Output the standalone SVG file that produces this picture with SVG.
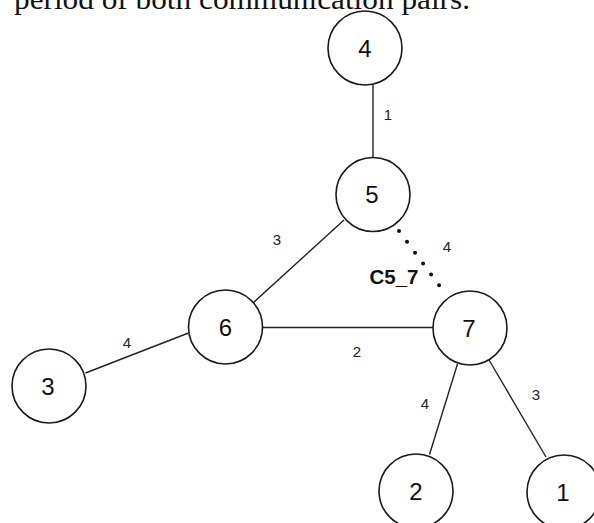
<svg xmlns="http://www.w3.org/2000/svg" width="594" height="523" viewBox="0 0 594 523">
  <style>
    .node circle { fill: #ffffff; stroke: #1a1a1a; stroke-width: 1.6; }
    .node text { font-family: "Liberation Sans", Arial, sans-serif; font-size: 24px; fill: #111111; text-anchor: middle; }
    .edge { stroke: #222222; stroke-width: 1.4; fill: none; }
    .dotted { stroke: #111111; stroke-width: 4; stroke-linecap: round; stroke-dasharray: 0 13.5; fill: none; }
    .elabel { font-family: "Liberation Sans", Arial, sans-serif; font-size: 15px; fill: #222222; text-anchor: middle; }
    .clabel { font-family: "Liberation Sans", Arial, sans-serif; font-size: 20.5px; font-weight: bold; fill: #111111; text-anchor: middle; }
    .caption { font-family: "Liberation Serif", "Times New Roman", serif; font-size: 29px; fill: #111111; }
  </style>
  <rect width="594" height="523" fill="#ffffff"/>

  <!-- tail of the preceding paragraph -->
  <text class="caption" x="14" y="9" textLength="456" lengthAdjust="spacingAndGlyphs">period of both communication pairs.</text>

  <!-- connectors -->
  <g id="connectors">
    <line class="edge" x1="373" y1="85" x2="373" y2="157.5"/>
    <line class="edge" x1="344" y1="220" x2="253.5" y2="302.5"/>
    <line class="dotted" x1="399" y1="231" x2="447" y2="296"/>
    <line class="edge" x1="262.5" y1="327.5" x2="433" y2="327.5"/>
    <line class="edge" x1="188.5" y1="333" x2="85.5" y2="373"/>
    <line class="edge" x1="457.5" y1="364" x2="429.5" y2="454.5"/>
    <line class="edge" x1="489" y1="360" x2="546" y2="457"/>

    <text class="elabel" x="388" y="120">1</text>
    <text class="elabel" x="277" y="245">3</text>
    <text class="elabel" x="447" y="252">4</text>
    <text class="clabel" x="394" y="284">C5_7</text>
    <text class="elabel" x="357" y="357">2</text>
    <text class="elabel" x="127" y="348">4</text>
    <text class="elabel" x="425" y="409">4</text>
    <text class="elabel" x="536" y="400">3</text>
  </g>

  <!-- nodes -->
  <g id="node-4" class="node"><circle cx="365" cy="48" r="37"/><text x="365" y="56.5">4</text></g>
  <g id="node-5" class="node"><circle cx="373" cy="194.5" r="37"/><text x="372" y="203">5</text></g>
  <g id="node-6" class="node"><circle cx="225.5" cy="327" r="37"/><text x="225.5" y="335.5">6</text></g>
  <g id="node-7" class="node"><circle cx="470" cy="328" r="37"/><text x="469" y="336.5">7</text></g>
  <g id="node-3" class="node"><circle cx="49" cy="386" r="37"/><text x="48" y="394.5">3</text></g>
  <g id="node-2" class="node"><circle cx="416" cy="491" r="37"/><text x="416" y="499.5">2</text></g>
  <g id="node-1" class="node"><circle cx="564" cy="492" r="37"/><text x="563" y="500.5">1</text></g>
</svg>
